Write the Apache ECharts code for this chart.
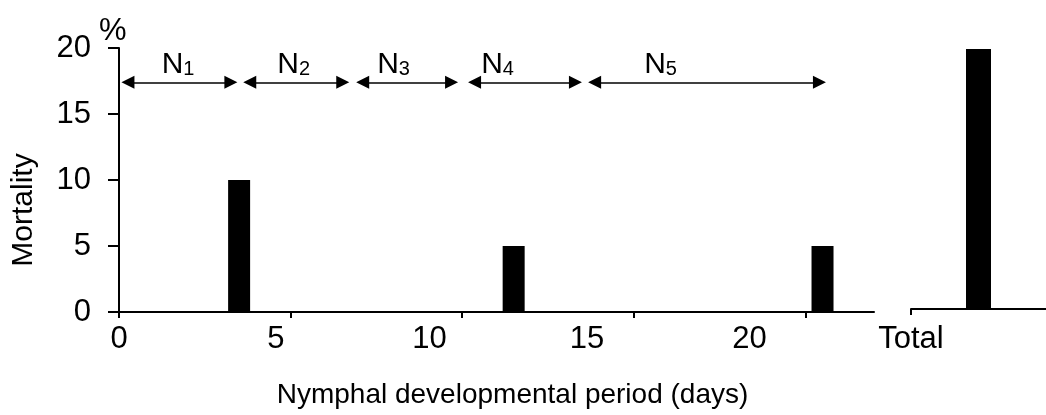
<!DOCTYPE html>
<html><head><meta charset="utf-8">
<script src="https://cdn.jsdelivr.net/npm/echarts@6/dist/echarts.min.js"></script>
<style>html,body{margin:0;padding:0;background:#fff}#c{width:1046px;height:415px}</style>
</head><body><div id="c"></div>
<script>
// ---- data ----
const dayPositions = [3.5, 11.5, 20.5];
const mortality = [10, 5, 5];
const totalLabel = 'Total';
const totalPosition = 1;
const totalMortality = 20;
const xTickValues = [0, 5, 10, 15, 20];
const xTickLabels = ['0', '5', '10', '15', '20'];
const xLabelAnchors = [0, 4.57, 9.05, 13.64, 18.37];
const stageSubscripts = ['1', '2', '3', '4', '5'];
const stageArrowFrom = [0.26, 3.81, 7.10, 10.36, 13.86];
const stageArrowTo = [3.26, 6.52, 9.69, 13.30, 20.41];
const stageLabelAt = [1.72, 5.09, 8.0, 11.03, 15.78];
const stageArrowLevel = 17.4;

const FONT = 'Liberation Sans, Arial, sans-serif';
const chart = echarts.init(document.getElementById('c'), null, {renderer: 'canvas'});

const axisLineStyle = {lineStyle: {color: '#000', width: 2}};

chart.setOption({
  animation: false,
  backgroundColor: '#fff',
  title: {
    text: '%', left: 94, top: 11,
    textStyle: {fontSize: 31, fontWeight: 'normal', color: '#000', fontFamily: FONT}
  },
  grid: [
    {left: 119, right: 172, top: 48, bottom: 103},
    {left: 911, right: -10, top: 49, bottom: 106}
  ],
  xAxis: [
    {
      type: 'value', gridIndex: 0, min: 0, max: 22, interval: 5,
      name: 'Nymphal developmental period (days)',
      nameLocation: 'middle', nameGap: 69,
      nameTextStyle: {fontSize: 28, color: '#000', fontFamily: FONT, padding: [0, 0, 0, 32]},
      axisLine: {show: true, onZero: false, ...axisLineStyle},
      axisTick: {show: true, length: 6, customValues: xTickValues, lineStyle: {color: '#000', width: 2}},
      axisLabel: {
        customValues: xLabelAnchors, margin: 12,
        fontSize: 31, color: '#000', fontFamily: FONT,
        formatter: function (v) { const i = xLabelAnchors.indexOf(v); return i >= 0 ? xTickLabels[i] : ''; }
      },
      splitLine: {show: false}
    },
    {
      type: 'value', gridIndex: 1, min: 0, max: 2,
      axisLine: {show: true, onZero: false, ...axisLineStyle},
      axisTick: {show: true, length: 6, customValues: [0], lineStyle: {color: '#000', width: 2}},
      axisLabel: {
        customValues: [0], margin: 15,
        fontSize: 31, color: '#000', fontFamily: FONT,
        formatter: function () { return totalLabel; }
      },
      splitLine: {show: false}
    }
  ],
  yAxis: [
    {
      type: 'value', gridIndex: 0, min: 0, max: 20, interval: 5,
      name: 'Mortality', nameLocation: 'middle', nameGap: 80,
      nameTextStyle: {fontSize: 30, color: '#000', fontFamily: FONT, padding: [0, 60, 0, 0]},
      axisLine: {show: true, ...axisLineStyle},
      axisTick: {show: true, length: 11, lineStyle: {color: '#000', width: 2}},
      axisLabel: {margin: 28, fontSize: 31, color: '#000', fontFamily: FONT},
      splitLine: {show: false}
    },
    {type: 'value', gridIndex: 1, min: 0, max: 20, show: false}
  ],
  series: [
    {
      type: 'bar', xAxisIndex: 0, yAxisIndex: 0, barWidth: 22,
      itemStyle: {color: '#000'},
      data: dayPositions.map((d, i) => [d, mortality[i]]),
      markLine: {
        silent: true, symbol: ['triangle', 'triangle'], symbolSize: 13,
        label: {show: false},
        lineStyle: {color: '#000', width: 1.5, type: 'solid', opacity: 1},
        emphasis: {disabled: true},
        data: stageArrowFrom.map((a, i) => [
          {coord: [a, stageArrowLevel]},
          {coord: [stageArrowTo[i], stageArrowLevel]}
        ])
      }
    },
    {
      type: 'bar', xAxisIndex: 1, yAxisIndex: 1, barWidth: 25,
      itemStyle: {color: '#000'},
      data: [[totalPosition, totalMortality]]
    },
    {
      type: 'custom', xAxisIndex: 0, yAxisIndex: 0, silent: true,
      data: stageLabelAt.map((x, i) => [x, stageArrowLevel, i]),
      renderItem: function (params, api) {
        const pt = api.coord([api.value(0), api.value(1)]);
        const i = api.value(2);
        return {
          type: 'text',
          x: pt[0], y: pt[1] - 3,
          style: {
            text: '{n|N}{s|' + stageSubscripts[i] + '}',
            align: 'center', verticalAlign: 'bottom',
            fill: '#000', fontFamily: FONT,
            rich: {
              n: {fontSize: 30, lineHeight: 30, fill: '#000', color: '#000', fontFamily: FONT},
              s: {fontSize: 20, lineHeight: 14, verticalAlign: 'bottom', fill: '#000', color: '#000', fontFamily: FONT}
            }
          }
        };
      }
    }
  ]
});
</script>
</body></html>
